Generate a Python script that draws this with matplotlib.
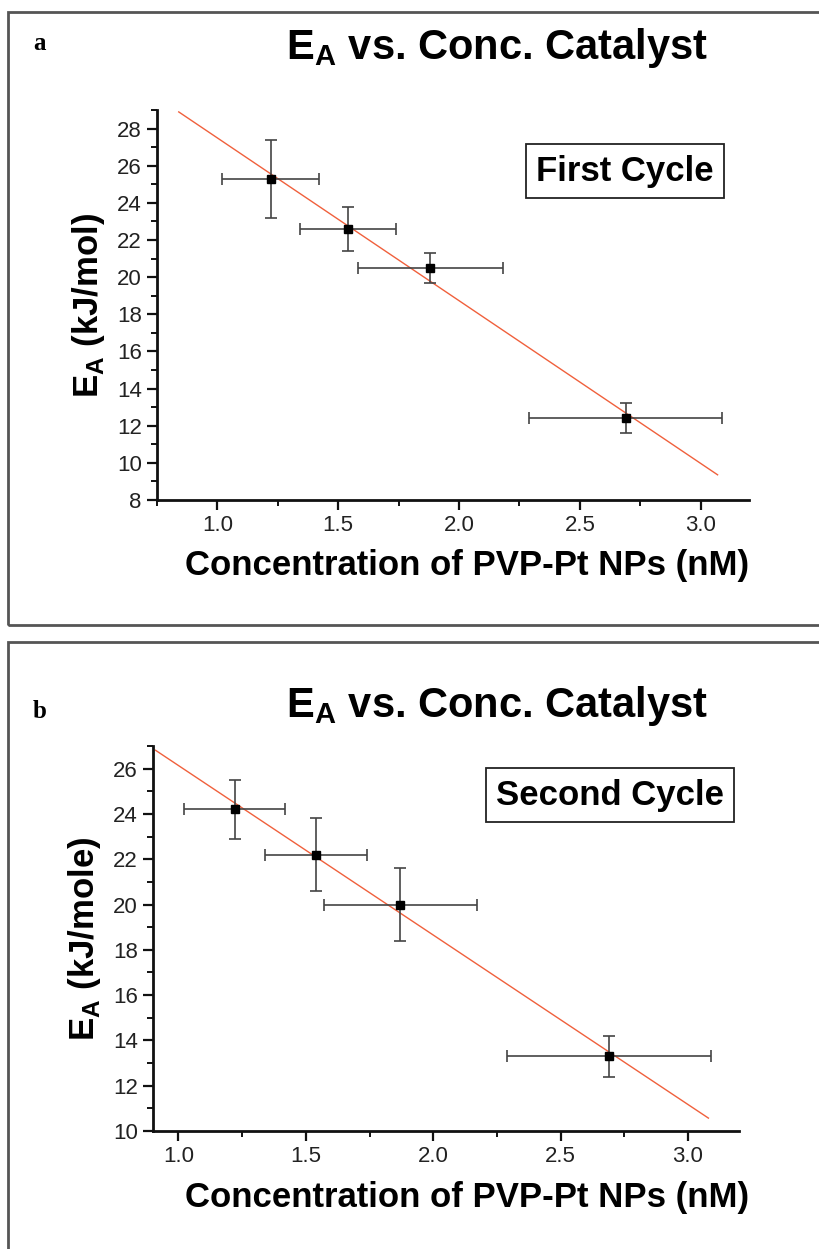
import numpy as np
import matplotlib
matplotlib.use("Agg")
import matplotlib.pyplot as plt
from matplotlib.patches import Rectangle
from matplotlib.ticker import MultipleLocator

# ---- data ----
conc_a = [1.22, 1.54, 1.88, 2.69]
ea_a = [25.3, 22.6, 20.5, 12.4]
xerr_a = [0.20, 0.20, 0.30, 0.40]
yerr_a = [2.1, 1.2, 0.8, 0.8]
fit_range_a = [0.84, 3.07]

conc_b = [1.22, 1.54, 1.87, 2.69]
ea_b = [24.2, 22.2, 20.0, 13.3]
xerr_b = [0.20, 0.20, 0.30, 0.40]
yerr_b = [1.3, 1.6, 1.6, 0.9]
fit_range_b = [0.91, 3.08]

x_ticks = [1.0, 1.5, 2.0, 2.5, 3.0]
x_ticklabels = ["1.0", "1.5", "2.0", "2.5", "3.0"]

plt.rcParams['font.family'] = ['Liberation Sans', 'DejaVu Sans']

W, H = 819, 1249
fig = plt.figure(figsize=(W / 100, H / 100), dpi=100)


def fx(px):
    return px / W


def fy(py):
    return 1 - py / H


def panel(axrect, x, y, xe, ye, frange, xlim, ylim, yticks, ylabel, box_text,
          box_center, title_y, letter, letter_y, frame):
    # outer frame
    fig.patches.append(Rectangle((fx(frame[0]), fy(frame[3])),
                                 fx(frame[2] - frame[0]), fy(frame[1]) - fy(frame[3]),
                                 transform=fig.transFigure, fill=False,
                                 edgecolor='#555555', linewidth=2.0, clip_on=False))
    l, t, r, b = axrect
    ax = fig.add_axes([fx(l), fy(b), fx(r - l), fy(t) - fy(b)])
    ax.set_xlim(*xlim)
    ax.set_ylim(*ylim)
    ax.spines['top'].set_visible(False)
    ax.spines['right'].set_visible(False)
    for s in ('left', 'bottom'):
        ax.spines[s].set_linewidth(2.0)
        ax.spines[s].set_color('#111111')
    ax.set_xticks(x_ticks)
    ax.set_xticklabels(x_ticklabels)
    ax.xaxis.set_minor_locator(MultipleLocator(0.25))
    ax.set_yticks(yticks)
    ax.yaxis.set_minor_locator(MultipleLocator(1))
    ax.tick_params(which='major', direction='out', length=7, width=1.6,
                   labelsize=16, colors='#111111', pad=4)
    ax.tick_params(which='minor', direction='out', length=4, width=1.4,
                   colors='#111111')
    for lab in ax.get_xticklabels() + ax.get_yticklabels():
        lab.set_color('#222222')

    coef = np.polyfit(x, y, 1)
    xf = np.array(frange)
    ax.plot(xf, np.polyval(coef, xf), color='#f0603c', linewidth=1.0, zorder=2)
    ax.errorbar(x, y, xerr=xe, yerr=ye, fmt='s', color='black', markersize=6,
                ecolor='#444444', elinewidth=1.2, capsize=4, capthick=1.2,
                zorder=3)

    ax.set_ylabel(ylabel, fontsize=25, fontweight='bold')
    ax.yaxis.set_label_coords(-0.085, 0.5)
    ax.set_xlabel('Concentration of PVP-Pt NPs (nM)', fontsize=25,
                  fontweight='bold')

    fig.text(fx(497), fy(title_y), r'E$_\mathregular{A}$ vs. Conc. Catalyst',
             fontsize=30, fontweight='bold', ha='center', va='center')
    fig.text(fx(40), fy(letter_y), letter, fontsize=18, fontweight='bold',
             family='Liberation Serif', ha='center', va='center')
    fig.text(fx(box_center[0]), fy(box_center[1]), box_text, fontsize=25,
             fontweight='bold', ha='center', va='center',
             bbox=dict(boxstyle='square,pad=0.3', facecolor='white',
                       edgecolor='#222222', linewidth=1.3))
    return ax


ax_a = panel((157, 110, 749, 500), conc_a, ea_a, xerr_a, yerr_a, fit_range_a,
             (0.75, 3.2), (8, 29), list(range(8, 29, 2)),
             r'E$_\mathregular{A}$ (kJ/mol)', 'First Cycle', (625, 171),
             48, 'a', 44, (8, 12, 830, 625))
ax_a.xaxis.set_label_coords(0.524, -0.125)

ax_b = panel((153, 746, 739, 1131), conc_b, ea_b, xerr_b, yerr_b, fit_range_b,
             (0.9, 3.2), (10, 27), list(range(10, 27, 2)),
             r'E$_\mathregular{A}$ (kJ/mole)', 'Second Cycle', (610, 795),
             706, 'b', 712, (8, 642, 830, 1260))
ax_b.xaxis.set_label_coords(0.536, -0.13)

fig.savefig('out.png', dpi=100)
